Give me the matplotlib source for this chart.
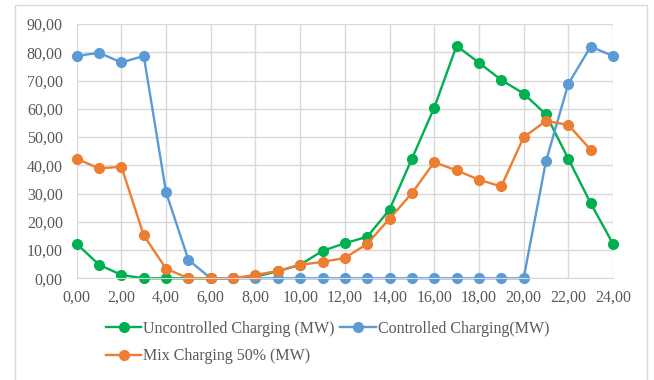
import matplotlib.pyplot as plt
from matplotlib.ticker import FuncFormatter, MultipleLocator
from matplotlib.patches import Rectangle

hours = list(range(25))
uncontrolled = [12.2, 4.8, 1.2, 0, 0, 0, 0, 0, 0.6, 2.5, 4.8, 9.7, 12.4, 14.7, 24.3,
                42.3, 60.4, 82.3, 76.3, 70.2, 65.4, 58.0, 42.3, 26.6, 12.2]
controlled = [78.7, 79.8, 76.4, 78.7, 30.4, 6.5, 0, 0, 0, 0, 0, 0, 0, 0, 0,
              0, 0, 0, 0, 0, 0, 41.4, 68.8, 82.0, 78.7]
mix_hours = list(range(24))
mix = [42.3, 38.9, 39.5, 15.2, 3.4, 0, 0, 0, 1.2, 2.6, 4.8, 5.8, 7.2, 12.2, 21.1,
       30.1, 41.1, 38.2, 34.9, 32.5, 49.9, 55.7, 54.3, 45.5]

labels = ["Uncontrolled Charging (MW)", "Controlled Charging(MW)", "Mix Charging 50% (MW)"]
colors = ["#00B050", "#5B9BD5", "#ED7D31"]

plt.rcParams['font.family'] = ['Liberation Serif', 'DejaVu Serif']
fs = 11.5

fig = plt.figure(figsize=(6.54, 3.8), dpi=100)
ax = fig.add_axes([0.1173, 0.2676, 0.82, 0.6692])

# light outer chart frame
fig.patches.append(Rectangle((15 / 654, -0.1), 632 / 654, 1.1 - 5 / 380,
                             transform=fig.transFigure, fill=False,
                             edgecolor="#D9D9D9", linewidth=1.0))

kw = dict(linewidth=1.7, marker="o", markersize=7, clip_on=False)
l1, = ax.plot(hours, uncontrolled, color=colors[0], label=labels[0], **kw)
l2, = ax.plot(hours, controlled, color=colors[1], label=labels[1], **kw)
l3, = ax.plot(mix_hours, mix, color=colors[2], label=labels[2], **kw)

ax.set_xlim(0, 24)
ax.set_ylim(0, 90)
ax.xaxis.set_major_locator(MultipleLocator(2))
ax.yaxis.set_major_locator(MultipleLocator(10))
fmt = FuncFormatter(lambda v, p: f"{v:.2f}".replace(".", ","))
ax.xaxis.set_major_formatter(fmt)
ax.yaxis.set_major_formatter(fmt)
ax.tick_params(length=0, labelsize=fs, labelcolor="#595959")
ax.tick_params(axis="x", pad=8)
ax.tick_params(axis="y", pad=10)
ax.grid(True, color="#D9D9D9", linewidth=1.0)
ax.set_axisbelow(True)
for s in ax.spines.values():
    s.set_visible(False)
ax.spines['bottom'].set_visible(True)
ax.spines['bottom'].set_color("#D9D9D9")

fig.legend(handles=[l1, l3, l2], ncol=2, loc="upper left",
           bbox_to_anchor=(106 / 654, 1 - 321 / 380), frameon=False,
           fontsize=fs, labelcolor="#595959", borderaxespad=0, borderpad=0,
           handlelength=2.2, handletextpad=0.12, columnspacing=0.37,
           labelspacing=0.7)

fig.savefig("out.png", dpi=100)
